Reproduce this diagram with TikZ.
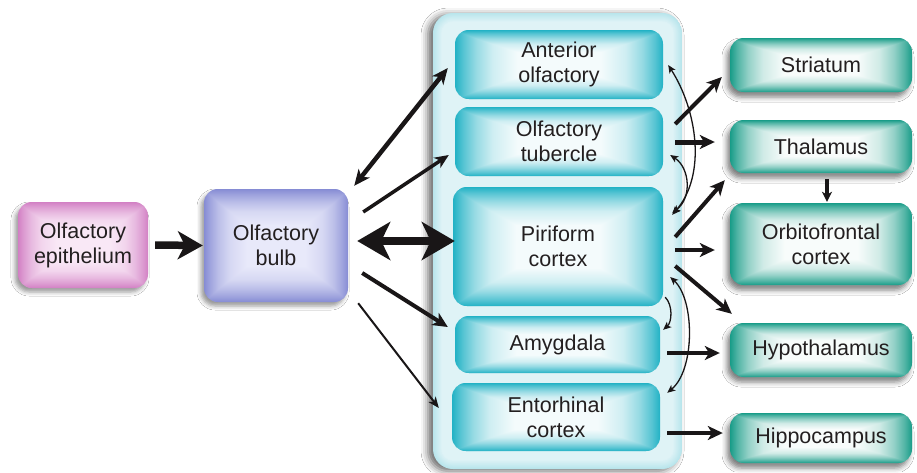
\documentclass[tikz,border=0pt]{standalone}
\usepackage{fontspec}
\setmainfont{Liberation Sans}
\usetikzlibrary{arrows.meta,calc,shadows.blur}

\definecolor{txt}{RGB}{35,31,32}
\definecolor{cyanedge}{RGB}{34,178,197}
\definecolor{cyaninner}{RGB}{244,251,252}
\definecolor{tealedge}{RGB}{24,156,136}
\definecolor{tealinner}{RGB}{248,252,251}
\definecolor{pinkedge}{RGB}{210,128,196}
\definecolor{pinkinner}{RGB}{249,232,246}
\definecolor{lavedge}{RGB}{134,140,212}
\definecolor{lavinner}{RGB}{232,233,250}
\definecolor{panelrim}{RGB}{184,229,236}
\definecolor{arrowblack}{RGB}{25,22,23}

% glow shadings: edge colour at the border, fading to the inner colour
\newcommand\declareglow[3]{%
  \colorlet{#1-a}{#2!75!#3}\colorlet{#1-b}{#2!45!#3}\colorlet{#1-c}{#2!18!#3}%
  \pgfdeclarehorizontalshading{#1-h}{100bp}{color(0bp)=(#2); color(25bp)=(#2);
    color(27bp)=(#1-a); color(30bp)=(#1-b); color(34bp)=(#1-c); color(40bp)=(#3);
    color(60bp)=(#3); color(66bp)=(#1-c); color(70bp)=(#1-b); color(73bp)=(#1-a);
    color(75bp)=(#2); color(100bp)=(#2)}%
  \pgfdeclareverticalshading{#1-v}{100bp}{color(0bp)=(#2); color(25bp)=(#2);
    color(27.5bp)=(#1-a); color(31bp)=(#1-b); color(35bp)=(#1-c); color(41bp)=(#3);
    color(59bp)=(#3); color(65bp)=(#1-c); color(69bp)=(#1-b); color(72.5bp)=(#1-a);
    color(75bp)=(#2); color(100bp)=(#2)}%
}
\declareglow{gcyan}{cyanedge}{cyaninner}
\declareglow{gteal}{tealedge}{tealinner}
\declareglow{gpink}{pinkedge}{pinkinner}
\declareglow{glav}{lavedge}{lavinner}

\tikzset{
  glowfill/.style={shade, shading=#1-h, path picture={
    \shade[shading=#1-v, blend mode=darken]
      (path picture bounding box.south west) rectangle (path picture bounding box.north east);}},
  % soft rim for the large panel: nested rounded rectangles
  rimglow/.style={path picture={
    \foreach \k in {0,...,20}{
      \pgfmathsetmacro\ins{\k*0.45}
      \pgfmathtruncatemacro\pct{45+55*(1-\k/20)}
      \fill[panelrim!\pct!white, rounded corners={max(20-\ins,1)*1pt}]
        ($(path picture bounding box.south west)+(\ins pt,\ins pt)$) rectangle
        ($(path picture bounding box.north east)-(\ins pt,\ins pt)$);
    }}},
  basebox/.style={rounded corners=14pt, inner sep=0pt, align=center, text=txt,
    font=\fontsize{21.5}{25}\selectfont},
  cbox/.style={basebox, glowfill=gcyan},
  tbox/.style={basebox, minimum width=182pt, glowfill=gteal,
    blur shadow={shadow xshift=-3pt, shadow yshift=-5pt, shadow blur radius=5pt, shadow opacity=50}},
  pbox/.style={basebox, glowfill=gpink,
    blur shadow={shadow xshift=-3pt, shadow yshift=-4pt, shadow blur radius=4pt, shadow opacity=40}},
  lbox/.style={basebox, glowfill=glav,
    blur shadow={shadow xshift=-3pt, shadow yshift=-4pt, shadow blur radius=4pt, shadow opacity=40}},
  panelbox/.style={rounded corners=20pt, rimglow,
    blur shadow={shadow xshift=-5pt, shadow yshift=-2pt, shadow blur radius=7pt, shadow opacity=60}},
  conn/.style={draw=arrowblack, line width=#1},
  hd/.style n args={2}{-{Stealth[length=#1pt,width=#2pt,inset=#1*0.28pt]}},
  thin/.style={draw=arrowblack, line width=1.3pt, {Stealth[length=8pt,width=7pt,inset=2pt]}-{Stealth[length=8pt,width=7pt,inset=2pt]}},
}

\begin{document}
\begin{tikzpicture}[x=1pt,y=-1pt]
\useasboundingbox[fill=white] (0,0) rectangle (917,472);

% central panel holding the cortical targets
\node[panelbox, minimum width=249pt, minimum height=456pt] (panel) at (557.5,241) {};

% left-hand stages
\node[pbox, minimum width=130pt, minimum height=86pt] (epi) at (83,245) {Olfactory\\epithelium};
\node[lbox, minimum width=144pt, minimum height=113pt] (bulb) at (276,245.5) {Olfactory\\bulb};

% primary olfactory cortex
\node[cbox, minimum width=208pt, minimum height=69pt] (ant) at (559,64.5) {Anterior\\olfactory};
\node[cbox, minimum width=208pt, minimum height=69pt] (tub) at (559,141.5) {Olfactory\\tubercle};
\node[cbox, minimum width=210pt, minimum height=119pt] (pir) at (558,246.5) {Piriform\\cortex};
\node[cbox, minimum width=205pt, minimum height=57pt] (amy) at (557.5,344.5) {Amygdala};
\node[cbox, minimum width=208pt, minimum height=68pt] (ent) at (556,417) {Entorhinal\\cortex};

% downstream targets
\node[tbox, minimum height=54pt] (str) at (821,65) {Striatum};
\node[tbox, minimum height=53pt] (tha) at (821,146.5) {Thalamus};
\node[tbox, minimum height=82pt] (orb) at (821,244) {Orbitofrontal\\cortex};
\node[tbox, minimum height=54pt] (hyp) at (821,350) {Hypothalamus};
\node[tbox, minimum height=50pt] (hip) at (821,438) {Hippocampus};

% epithelium to bulb
\draw[conn=7.5pt, hd={25}{28}] ($(epi.east)+(7,0)$) -- ($(bulb.west)+(-1,0)$);

% bulb to cortex fan
\draw[conn=4.5pt, {Stealth[length=16pt,width=14pt,inset=4.5pt]}-{Stealth[length=16pt,width=14pt,inset=4.5pt]}]
  ($(bulb.north east)+(6,-3)$) -- ($(ant.west)+(-7,3.5)$);
\draw[conn=3.5pt, hd={14}{12}] ($(bulb.east)+(15,-33.5)$) -- ($(tub.west)+(-6,13.5)$);
\draw[conn=8pt, {Stealth[length=33pt,width=38pt,inset=9pt]}-{Stealth[length=33pt,width=38pt,inset=9pt]}]
  ($(bulb.east)+(9,-4.5)$) -- ($(pir.west)+(2,-5.5)$);
\draw[conn=4pt, hd={15}{14}] ($(bulb.east)+(14,27.5)$) -- ($(amy.west)+(-7,-17.5)$);
\draw[conn=2pt, hd={11}{9}] ($(bulb.south east)+(10,1)$) -- ($(ent.west)+(-13,-9)$);

% cortex to downstream targets
\draw[conn=4pt, hd={15}{14}] ($(tub.east)+(12,-17.5)$) -- ($(str.west)+(-8,12)$);
\draw[conn=5pt, hd={15}{14}] ($(tub.east)+(12,0.5)$) -- ($(tha.west)+(-15,-4.5)$);
\draw[conn=4pt, hd={15}{14}] ($(pir.east)+(12,-9.5)$) -- ($(tha.south west)+(-5,7)$);
\draw[conn=4pt, hd={15}{14}] ($(pir.east)+(12,3.5)$) -- ($(orb.west)+(-15,6)$);
\draw[conn=4pt, hd={10}{10}] ($(tha.south)+(6,6)$) -- ($(orb.north)+(6,-1)$);
\draw[conn=4pt, hd={15}{14}] ($(pir.east)+(12,19.5)$) -- ($(hyp.north west)+(2,-9)$);
\draw[conn=4.5pt, hd={15}{14}] ($(amy.east)+(7,8.5)$) -- ($(hyp.west)+(-10,3)$);
\draw[conn=4.5pt, hd={15}{14}] ($(ent.east)+(7,16)$) -- ($(hip.west)+(-7,-5)$);

% reciprocal links inside the primary cortex
\draw[thin] ($(ant.east)+(5,0.5)$) .. controls (697,110) and (707,175) .. ($(pir.north east)+(9,28)$);
\draw[thin] ($(tub.east)+(7,13.5)$) .. controls (690,168) and (692,198) .. ($(pir.north east)+(9,26)$);
\draw[draw=arrowblack, line width=1.3pt, -{Stealth[length=8pt,width=7pt,inset=2pt]}]
  ($(pir.south east)+(2,-9)$) .. controls (673,305) and (672,322) .. ($(amy.north east)+(3,14)$);
\draw[thin] ($(pir.east)+(7,30.5)$) .. controls (695,300) and (695,370) .. ($(ent.north east)+(7,10)$);
\end{tikzpicture}
\end{document}
